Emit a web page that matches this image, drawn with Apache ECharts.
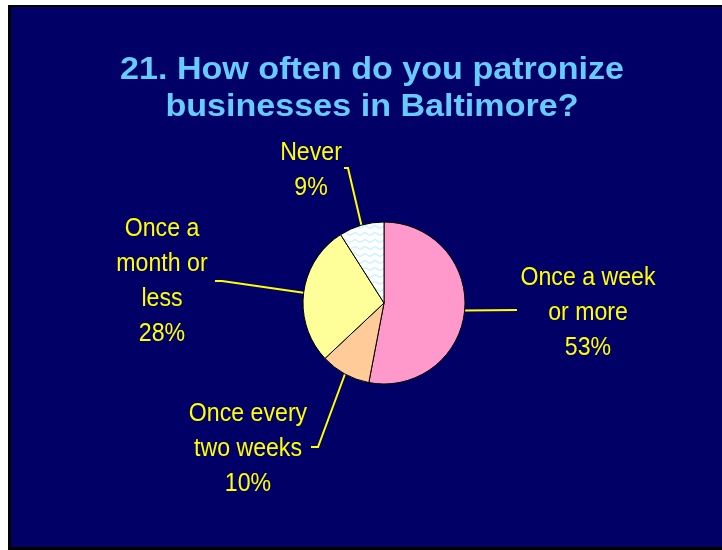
<!DOCTYPE html>
<html>
<head>
<meta charset="utf-8">
<script src="https://cdn.jsdelivr.net/npm/echarts@6/dist/echarts.min.js"></script>
<style>
  html, body { margin: 0; padding: 0; background: #ffffff; }
  #chart { width: 722px; height: 550px; }
</style>
</head>
<body>
<div id="chart"></div>
<script>
// Survey answers and their shares (percent)
const categories = ['Once a week\nor more', 'Once every\ntwo weeks', 'Once a\nmonth or\nless', 'Never'];
const shares = [53, 10, 28, 9];
const titleLines = ['21. How often do you patronize', 'businesses in Baltimore?'];

// Label block centres and leader-line bends for each slice
const labelSpots = [
  { x: 588, y: 313, bend: [517, 310], end: [517, 310] },
  { x: 248, y: 449, bend: [318, 447], end: [311, 447] },
  { x: 162, y: 281, bend: [222, 281], end: [215, 281] },
  { x: 311, y: 170, bend: [348, 168], end: [344, 168] }
];

const sliceColors = ['#FF99CC', '#FFCC99', '#FFFF99'];
const LABEL_COLOR = '#FFFF00';
const LABEL_SQUEEZE = 0.89;

// Zigzag light-cyan fill for the "Never" slice
function wavePattern() {
  const c = document.createElement('canvas');
  c.width = 10; c.height = 7;
  const g = c.getContext('2d');
  g.fillStyle = '#FFFFFF';
  g.fillRect(0, 0, 10, 7);
  g.strokeStyle = '#C4F2FF';
  g.lineWidth = 1.3;
  g.beginPath();
  g.moveTo(0, 4.5); g.lineTo(5, 1.5); g.lineTo(10, 4.5);
  g.stroke();
  return c;
}

const chart = echarts.init(document.getElementById('chart'), null, { renderer: 'canvas' });

const data = categories.map((name, i) => ({
  name: name,
  value: shares[i],
  itemStyle: i < 3 ? { color: sliceColors[i] } : { color: { image: wavePattern(), repeat: 'repeat' } }
}));

const labelFont = "'Liberation Sans', Arial, sans-serif";
const titleFont = "'Liberation Sans', Arial, sans-serif";

chart.setOption({
  backgroundColor: '#FFFFFF',
  animation: false,
  graphic: [
    { type: 'rect', z: -10, shape: { x: 8, y: 5, width: 714, height: 545 }, style: { fill: '#000000' } },
    { type: 'rect', z: -9, shape: { x: 11, y: 7, width: 711, height: 540 }, style: { fill: '#000066' } },
    ...titleLines.map((t, i) => ({
      type: 'text', z: 10, x: 372, y: 70 + i * 37, scaleX: 1.1,
      style: {
        text: t, fill: '#66CCFF', font: 'bold 31px ' + titleFont,
        textAlign: 'center', textVerticalAlign: 'middle',
        textShadowColor: '#000000', textShadowOffsetX: 2, textShadowOffsetY: 2, textShadowBlur: 0
      }
    }))
  ],
  series: [{
    type: 'pie',
    center: [384, 303],
    radius: 81,
    startAngle: 90,
    clockwise: true,
    avoidLabelOverlap: false,
    itemStyle: { borderColor: '#000000', borderWidth: 1 },
    label: {
      show: true,
      position: 'outside',
      color: LABEL_COLOR,
      fontFamily: labelFont,
      fontSize: 26,
      lineHeight: 35,
      align: 'center',
      formatter: p => p.name + '\n' + p.value + '%'
    },
    labelLine: { show: true, lineStyle: { color: LABEL_COLOR, width: 2 } },
    labelLayout: function (params) {
      const s = labelSpots[params.dataIndex];
      const start = params.labelLinePoints ? params.labelLinePoints[0] : s.bend;
      return {
        x: s.x, y: s.y, align: 'center', verticalAlign: 'middle',
        labelLinePoints: [start, s.bend, s.end]
      };
    },
    emphasis: { disabled: true },
    data: data
  }]
});

// Narrow every line of the slice labels for a condensed face
function narrowLabels() {
  const zr = chart.getZr();
  let changed = false;
  zr.storage.getDisplayList(true).forEach(el => {
    const isText = el.type === 'tspan' || el.type === 'text';
    if (isText && el.style && el.style.fill === LABEL_COLOR && el.scaleX !== LABEL_SQUEEZE) {
      el.scaleX = LABEL_SQUEEZE;
      el.markRedraw();
      changed = true;
    }
  });
  if (changed) zr.refreshImmediately();
}
narrowLabels();
chart.on('finished', narrowLabels);
</script>
</body>
</html>
